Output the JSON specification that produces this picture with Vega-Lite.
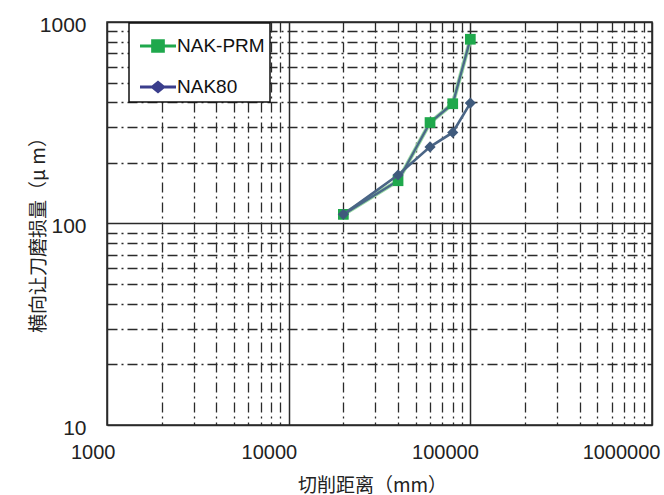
{
  "$schema": "https://vega.github.io/schema/vega-lite/v6.json",
  "width": 545,
  "height": 403,
  "autosize": {"type": "none"},
  "padding": {"left": 107, "top": 22, "right": 12, "bottom": 70},
  "background": "white",
  "config": {
    "font": "Liberation Sans",
    "view": {"stroke": "#222", "strokeWidth": 1.5},
    "legend": {"strokeWidth": 1.5}
  },
  "data": {
    "values": [
      {"series": "NAK-PRM", "x": 20000, "y": 111},
      {"series": "NAK-PRM", "x": 40000, "y": 163},
      {"series": "NAK-PRM", "x": 60000, "y": 317},
      {"series": "NAK-PRM", "x": 80000, "y": 393},
      {"series": "NAK-PRM", "x": 100000, "y": 821},
      {"series": "NAK80", "x": 20000, "y": 111},
      {"series": "NAK80", "x": 40000, "y": 174},
      {"series": "NAK80", "x": 60000, "y": 240},
      {"series": "NAK80", "x": 80000, "y": 283},
      {"series": "NAK80", "x": 100000, "y": 396}
    ]
  },
  "encoding": {
    "x": {
      "field": "x",
      "type": "quantitative",
      "scale": {"type": "log", "domain": [1000, 1000000], "nice": false},
      "axis": {
        "values": [1000, 2000, 3000, 4000, 5000, 6000, 7000, 8000, 9000, 10000, 20000, 30000, 40000, 50000, 60000, 70000, 80000, 90000, 100000, 200000, 300000, 400000, 500000, 600000, 700000, 800000, 900000, 1000000],
        "format": "d",
        "labelExpr": "indexof([1000,10000,100000,1000000], datum.value) >= 0 ? datum.label : ''",
        "ticks": false,
        "domain": false,
        "grid": true,
        "gridColor": "#2a2a2a",
        "gridWidth": {"condition": {"test": "indexof([1000,10000,100000,1000000], datum.value) >= 0", "value": 1.5}, "value": 1.3},
        "gridDash": {"condition": {"test": "indexof([1000,10000,100000,1000000], datum.value) >= 0", "value": []}, "value": [10, 4, 2, 4]},
        "labelFontSize": 20,
        "labelColor": "#222",
        "labelAlign": "right",
        "labelOffset": 8,
        "labelPadding": 17,
        "labelBaseline": "top",
        "labelOverlap": false,
        "labelFlush": false,
        "title": "切削距离（mm）",
        "titleFont": "Noto Sans CJK SC",
        "titleFontSize": 19,
        "titleFontWeight": "normal",
        "titleColor": "#222",
        "titleX": 265,
        "titleY": 60,
        "titleBaseline": "middle"
      }
    },
    "y": {
      "field": "y",
      "type": "quantitative",
      "scale": {"type": "log", "domain": [10, 1000], "nice": false},
      "axis": {
        "values": [10, 20, 30, 40, 50, 60, 70, 80, 90, 100, 200, 300, 400, 500, 600, 700, 800, 900, 1000],
        "format": "d",
        "labelExpr": "indexof([10,100,1000], datum.value) >= 0 ? datum.label : ''",
        "ticks": false,
        "domain": false,
        "grid": true,
        "gridColor": "#2a2a2a",
        "gridWidth": {"condition": {"test": "indexof([10,100,1000], datum.value) >= 0", "value": 1.5}, "value": 1.3},
        "gridDash": {"condition": {"test": "indexof([10,100,1000], datum.value) >= 0", "value": []}, "value": [10, 4, 2, 4]},
        "labelFontSize": 21,
        "labelColor": "#222",
        "labelPadding": 21,
        "labelOffset": 3,
        "labelOverlap": false,
        "labelFlush": false,
        "title": "横向让刀磨损量（μ m）",
        "titleFont": "Noto Sans CJK SC",
        "titleFontSize": 19,
        "titleFontWeight": "normal",
        "titleColor": "#222",
        "titleX": -69,
        "titleY": 208,
        "titleBaseline": "middle"
      }
    }
  },
  "layer": [
    {
      "transform": [{"filter": "datum.series == 'NAK-PRM'"}],
      "mark": {"type": "line", "color": "#9bdca5", "strokeWidth": 4.2}
    },
    {
      "transform": [{"filter": "datum.series == 'NAK-PRM'"}],
      "mark": {"type": "line", "color": "#4a6a88", "strokeWidth": 2.4}
    },
    {
      "transform": [{"filter": "datum.series == 'NAK-PRM'"}],
      "mark": {"type": "point", "shape": "square", "filled": true, "color": "#1fa84c", "opacity": 1, "size": 115}
    },
    {
      "transform": [{"filter": "datum.series == 'NAK80'"}],
      "mark": {"type": "line", "color": "#4a6586", "strokeWidth": 2.6}
    },
    {
      "transform": [{"filter": "datum.series == 'NAK80'"}],
      "mark": {"type": "point", "shape": "diamond", "filled": true, "color": "#3f5a7c", "opacity": 1, "size": 125}
    },
    {
      "transform": [{"filter": "false"}],
      "mark": {"type": "point", "filled": true, "opacity": 1},
      "encoding": {
        "color": {
          "field": "series",
          "type": "nominal",
          "scale": {"domain": ["NAK-PRM", "NAK80"], "range": ["#1fa84c", "#3a3d8c"]},
          "legend": {"orient": "none", "legendX": 22, "legendY": 1, "title": null, "strokeColor": "#111", "fillColor": "white", "padding": 5, "symbolOffset": 6, "labelOffset": 1, "symbolSize": 1296, "symbolStrokeWidth": 0, "labelFontSize": 19, "labelFont": "Liberation Sans", "labelColor": "#111", "rowPadding": 13}
        },
        "shape": {
          "field": "series",
          "type": "nominal",
          "scale": {"domain": ["NAK-PRM", "NAK80"], "range": ["M-1,-0.09H1V0.09H-1Z M-0.38,-0.38H0.38V0.38H-0.38Z", "M-1,-0.09H1V0.09H-1Z M0,-0.36L0.44,0L0,0.36L-0.44,0Z"]},
          "legend": {"orient": "none", "legendX": 22, "legendY": 1, "title": null, "strokeColor": "#111", "fillColor": "white", "padding": 5, "symbolOffset": 6, "labelOffset": 1, "symbolSize": 1296, "symbolStrokeWidth": 0, "labelFontSize": 19, "labelFont": "Liberation Sans", "labelColor": "#111", "rowPadding": 13}
        }
      }
    }
  ]
}
